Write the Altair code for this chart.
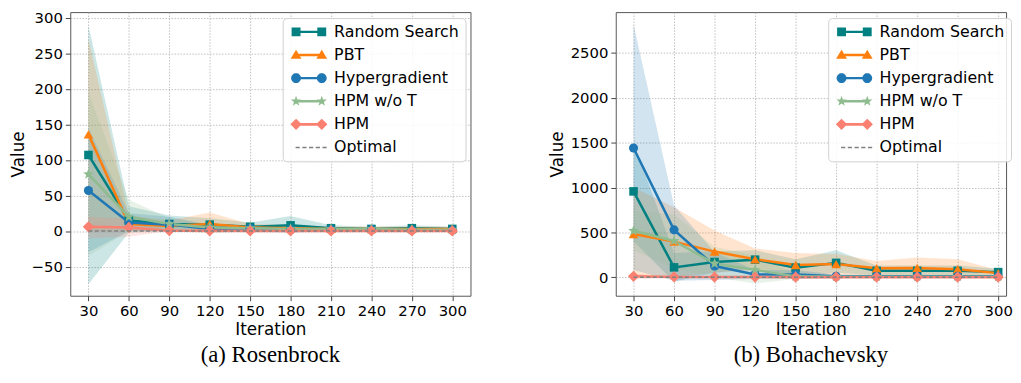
import math
import altair as alt
import pandas as pd

iterations = [30, 60, 90, 120, 150, 180, 210, 240, 270, 300]
methods = ["Random Search", "PBT", "Hypergradient", "HPM w/o T", "HPM", "Optimal"]
colors = ["#008080", "#ff7f0e", "#1f77b4", "#8fbc8f", "#fa8072", "#808080"]
optimal = [0, 0, 0, 0, 0, 0, 0, 0, 0, 0]

# ---- (a) Rosenbrock ----
ros_rs = [107, 15, 10, 9, 6, 8, 4, 3, 4, 3]
ros_rs_lo = [-75, -2, 0, 0, 0, -2, 0, 0, 0, 0]
ros_rs_hi = [289, 35, 22, 18, 12, 21, 8, 6, 8, 6]
ros_pbt = [136, 10, 7, 10, 5, 4, 3, 3, 3, 3]
ros_pbt_lo = [0, 0, 0, -3, 0, 0, 0, 0, 0, 0]
ros_pbt_hi = [270, 22, 15, 26, 10, 8, 6, 6, 6, 6]
ros_hg = [57, 12, 9, 3, 4, 2, 2, 2, 1, 1]
ros_hg_lo = [-30, 0, 0, -2, -1, -2, 0, 0, 0, 0]
ros_hg_hi = [145, 25, 20, 8, 8, 6, 4, 4, 3, 3]
ros_wot = [80, 20, 10, 5, 4, 3, 3, 3, 2, 2]
ros_wot_lo = [-35, 0, 2, 0, 0, 0, 0, 0, 0, 0]
ros_wot_hi = [195, 44, 18, 10, 8, 6, 6, 5, 4, 4]
ros_hpm = [6, 5, 0.5, 0.3, 0.2, 0.2, 0.1, 0.1, 0.1, 0.1]
ros_hpm_lo = [-10, -8, 0, 0, 0, 0, 0, 0, 0, 0]
ros_hpm_hi = [20, 17, 1, 1, 0.5, 0.5, 0.3, 0.3, 0.3, 0.3]

# ---- (b) Bohachevsky ----
boh_rs = [957, 110, 170, 196, 107, 160, 72, 72, 72, 57]
boh_rs_lo = [400, -50, 50, 100, 20, 50, 20, 20, 20, 20]
boh_rs_hi = [1500, 270, 290, 300, 200, 300, 130, 130, 130, 95]
boh_pbt = [482, 397, 286, 200, 136, 147, 100, 104, 90, 46]
boh_pbt_lo = [0, 0, 50, 80, 0, 30, 10, 0, 0, 0]
boh_pbt_hi = [1000, 780, 520, 320, 270, 260, 180, 220, 200, 80]
boh_hg = [1440, 528, 125, 30, 30, 10, 10, 10, 10, 10]
boh_hg_lo = [80, -40, -30, -20, -20, -10, -5, -5, -5, -5]
boh_hg_hi = [2820, 800, 280, 80, 80, 30, 25, 25, 25, 25]
boh_wot = [518, 404, 153, 82, 10, 5, 5, 5, 5, 5]
boh_wot_lo = [300, 100, 0, -70, -20, -10, -5, -5, -5, -5]
boh_wot_hi = [740, 700, 340, 240, 40, 20, 15, 15, 15, 15]
boh_hpm = [10, 3, 2, 2, 1, 1, 1, 1, 1, 1]
boh_hpm_lo = [-20, -10, -10, -10, -5, -5, -5, -5, -5, -5]
boh_hpm_hi = [40, 15, 10, 10, 5, 5, 5, 5, 5, 5]

ros_series = {
    "Random Search": (ros_rs, ros_rs_lo, ros_rs_hi),
    "PBT": (ros_pbt, ros_pbt_lo, ros_pbt_hi),
    "Hypergradient": (ros_hg, ros_hg_lo, ros_hg_hi),
    "HPM w/o T": (ros_wot, ros_wot_lo, ros_wot_hi),
    "HPM": (ros_hpm, ros_hpm_lo, ros_hpm_hi),
    "Optimal": (optimal, optimal, optimal),
}
boh_series = {
    "Random Search": (boh_rs, boh_rs_lo, boh_rs_hi),
    "PBT": (boh_pbt, boh_pbt_lo, boh_pbt_hi),
    "Hypergradient": (boh_hg, boh_hg_lo, boh_hg_hi),
    "HPM w/o T": (boh_wot, boh_wot_lo, boh_wot_hi),
    "HPM": (boh_hpm, boh_hpm_lo, boh_hpm_hi),
    "Optimal": (optimal, optimal, optimal),
}


def make_df(series):
    rows = []
    for k, m in enumerate(methods):
        mean, lo, hi = series[m]
        for i, it in enumerate(iterations):
            rows.append({"iteration": it, "method": m, "value": mean[i],
                         "lo": lo[i], "hi": hi[i], "k": k})
    return pd.DataFrame(rows)


# ---- marker shape paths (unit square -1..1) ----
def poly(pts):
    return "M" + " L".join(f"{x:.3f},{y:.3f}" for x, y in pts) + " Z"


def star_pts(cx, cy, R, r):
    out = []
    for k in range(10):
        a = math.radians(-90 + 36 * k)
        rad = R if k % 2 == 0 else r
        out.append((cx + rad * math.cos(a), cy + rad * math.sin(a)))
    return out


def circle_pts(cx, cy, R):
    return [(cx + R * math.cos(2 * math.pi * k / 24), cy + R * math.sin(2 * math.pi * k / 24)) for k in range(24)]


STAR = poly(star_pts(0, 0, 1, 0.42))

# legend symbols: line with marker at both ends (1 unit = 5px with symbolSize 100)
C0 = 5.0


def U(px):
    return (px - C0) / 5.0


LX, RX = U(4.5), U(30.5)
LINE = poly([(LX, -0.25), (RX, -0.25), (RX, 0.25), (LX, 0.25)])


def sq(cx, h):
    return poly([(cx - h, -h), (cx + h, -h), (cx + h, h), (cx - h, h)])


def tri(cx, h):
    return poly([(cx, -h * 1.05), (cx + h * 1.1, h * 0.75), (cx - h * 1.1, h * 0.75)])


def dia(cx, h):
    return poly([(cx, -h), (cx + h, 0), (cx, h), (cx - h, 0)])


leg_paths = [
    LINE + " " + sq(LX, 0.9) + " " + sq(RX, 0.9),
    LINE + " " + tri(LX, 1.0) + " " + tri(RX, 1.0),
    LINE + " " + poly(circle_pts(LX, 0, 1.0)) + " " + poly(circle_pts(RX, 0, 1.0)),
    LINE + " " + poly(star_pts(LX, 0, 1.1, 0.45)) + " " + poly(star_pts(RX, 0, 1.1, 0.45)),
    poly([(LX, -0.3), (RX, -0.3), (RX, 0.3), (LX, 0.3)]) + " " + dia(LX, 1.15) + " " + dia(RX, 1.15),
    " ".join(poly([(U(4 + 6.8 * j), -0.15), (U(8.3 + 6.8 * j), -0.15),
                   (U(8.3 + 6.8 * j), 0.15), (U(4 + 6.8 * j), 0.15)]) for j in range(5)),
]

marker_shapes = ["square", "triangle-up", "circle", STAR, "diamond"]
marker_sizes = [75, 95, 85, 130, 130]


def panel(series, xdom, ydom, yvals, width, caption):
    df = make_df(series)
    base = alt.Chart(df)
    xenc = alt.X("iteration:Q", scale=alt.Scale(domain=xdom, nice=False, zero=False),
                 axis=alt.Axis(values=iterations, title="Iteration", titlePadding=3))
    yaxis = alt.Axis(values=yvals, title="Value", format="d")
    yscale = alt.Scale(domain=ydom, nice=False, zero=False)
    yenc = alt.Y("value:Q", scale=yscale, axis=yaxis, title="Value")
    cscale = alt.Scale(domain=methods, range=colors)
    legend_kw = dict(title=None, orient="none", legendX=215, legendY=6,
                     labelFontSize=16, labelFont="DejaVu Sans", labelColor="black",
                     symbolSize=100, symbolOpacity=1, symbolStrokeWidth=0,
                     labelOffset=30, rowPadding=7.4, padding=6,
                     fillColor="rgba(255,255,255,0.85)", strokeColor="#d0d0d0",
                     cornerRadius=4)
    # legend-only layer: no rows drawn, entries come from the explicit scale domain
    legend_layer = base.transform_filter("false").mark_point(filled=True, opacity=0, size=100).encode(
        x=xenc, y=yenc,
        color=alt.Color("method:N", scale=cscale, legend=alt.Legend(**legend_kw)),
        shape=alt.Shape("method:N", scale=alt.Scale(domain=methods, range=leg_paths),
                        legend=alt.Legend(**legend_kw)),
    )
    bands = base.transform_filter("datum.method != 'Optimal'").mark_area(opacity=0.2).encode(
        x=xenc,
        y=alt.Y("lo:Q", scale=yscale, axis=yaxis, title="Value"),
        y2="hi:Q",
        color=alt.Color("method:N", scale=cscale, legend=None),
        order=alt.Order("k:Q"),
    )
    lines = base.transform_filter("datum.method != 'Optimal'").mark_line(strokeWidth=2.5).encode(
        x=xenc, y=yenc,
        color=alt.Color("method:N", scale=cscale, legend=None),
        order=alt.Order("iteration:Q"),
    )
    opt = base.transform_filter("datum.method == 'Optimal'").mark_line(
        strokeWidth=1.5, strokeDash=[4, 2.5], color="#808080").encode(x=xenc, y=yenc)
    layers = [legend_layer, bands, lines]
    for m, shp, sz, col in zip(methods[:5], marker_shapes, marker_sizes, colors[:5]):
        layers.append(
            base.transform_filter(alt.datum.method == m).mark_point(
                filled=True, shape=shp, size=sz, color=col, opacity=1).encode(x=xenc, y=yenc)
        )
    layers.append(opt)
    return alt.layer(*layers).properties(
        width=width, height=287,
        title=alt.TitleParams(caption, orient="bottom", font="Liberation Serif",
                              fontSize=23, fontWeight="normal", color="black",
                              anchor="middle", offset=7),
    )


left = panel(ros_series, [16.5, 313.5], [-91, 308], [-50, 0, 50, 100, 150, 200, 250, 300], 405,
             "(a) Rosenbrock")
right = panel(boh_series, [16.83, 305.85], [-206, 2955], [0, 500, 1000, 1500, 2000, 2500], 395,
              "(b) Bohachevsky")

chart = alt.hconcat(left, right, spacing=77).resolve_scale(
    color="independent", shape="independent", x="independent", y="independent"
).resolve_legend(color="independent", shape="independent").properties(
    padding={"left": 0, "top": 0, "right": 0, "bottom": 0}
).configure_view(stroke="#555555", strokeWidth=1).configure_axis(
    grid=True, gridColor="#b0b0b0", gridDash=[1.5, 1.5], gridWidth=0.8,
    domain=False, tickColor="#444444", tickSize=5, tickWidth=1,
    labelFontSize=15, labelFont="DejaVu Sans", labelColor="black", labelPadding=3,
    titleFont="DejaVu Sans", titleFontSize=17, titleFontWeight="normal", titleColor="black",
    titlePadding=4,
)

chart.save("out.html", embed_options={"renderer": "svg", "actions": False})
